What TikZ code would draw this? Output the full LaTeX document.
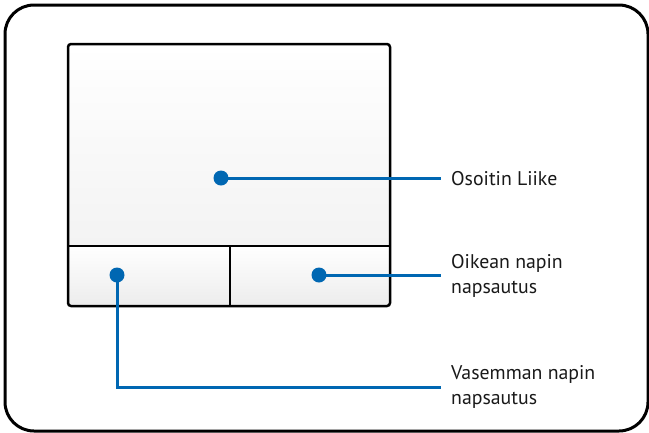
\documentclass[tikz,border=0pt]{standalone}
\usepackage{fontspec}
\setmainfont{PT Sans}
\definecolor{callout}{RGB}{0,103,178}
\definecolor{padgray}{RGB}{243,243,243}
\definecolor{btngray}{RGB}{236,236,236}
\begin{document}
\begin{tikzpicture}[x=1pt,y=-1pt,
  dot/.style={circle,fill=callout,inner sep=0pt,minimum size=15pt},
  lbl/.style={anchor=west,inner xsep=10pt,inner ysep=0pt,align=left,text=black!90,font=\fontsize{19.8}{24.5}\selectfont},
  lead/.style={draw=callout,line width=3pt},
  padline/.style={line width=2.5pt,line join=round}]
\useasboundingbox (0,0) rectangle (649,432);
% outer frame
\draw[line width=3pt,rounded corners=29pt] (5,5) rectangle (648,431);
% touchpad fills
\shade[top color=white,bottom color=padgray] (68,44) rectangle (390,246);
\shade[top color=white,bottom color=btngray] (68,246) rectangle (390,306);
% touchpad outlines
\draw[padline,rounded corners=3pt] (68,44) rectangle (390,306);
\draw[padline] (68,246) -- (390,246);
\draw[padline] (230,246) -- (230,306);
% callouts
\node[dot] (d1) at (221,178) {};
\node[dot] (d2) at (319,275) {};
\node[dot] (d3) at (117,275) {};
\node[lbl] (t1) at (441,179) {Osoitin Liike};
\node[lbl] (t2) at (441,276) {Oikean napin\\napsautus};
\node[lbl] (t3) at (441,387) {Vasemman napin\\napsautus};
\draw[lead] (d1.center) -- (d1.center -| t1.west);
\draw[lead] (d2.center) -- (d2.center -| t2.west);
\draw[lead] (d3.center) |- (t3.west);
\end{tikzpicture}
\end{document}
